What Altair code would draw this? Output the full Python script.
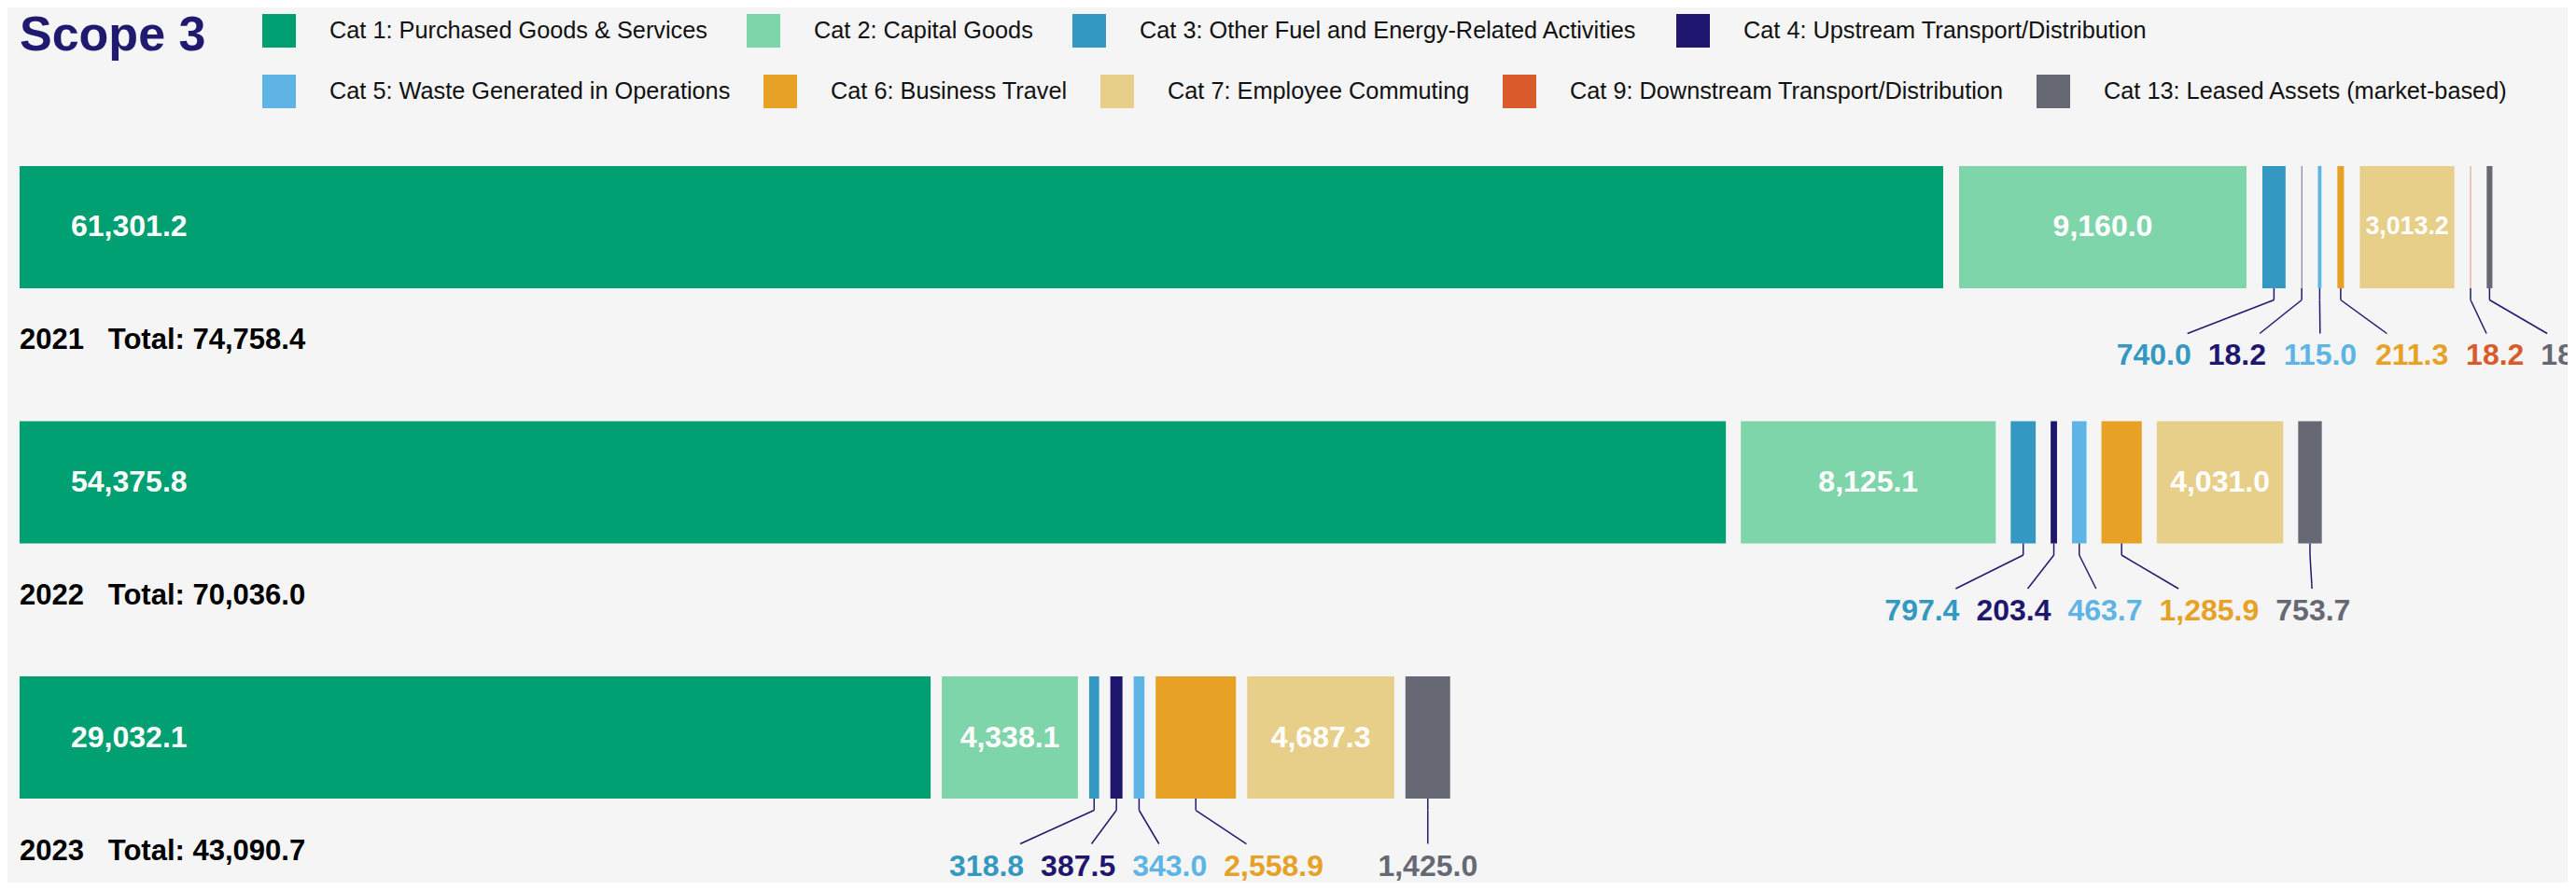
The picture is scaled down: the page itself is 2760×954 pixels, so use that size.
import altair as alt
import pandas as pd

# ---------------- data ----------------
years = ["2021", "2022", "2023"]
categories = [
    "Cat 1: Purchased Goods & Services",
    "Cat 2: Capital Goods",
    "Cat 3: Other Fuel and Energy-Related Activities",
    "Cat 4: Upstream Transport/Distribution",
    "Cat 5: Waste Generated in Operations",
    "Cat 6: Business Travel",
    "Cat 7: Employee Commuting",
    "Cat 9: Downstream Transport/Distribution",
    "Cat 13: Leased Assets (market-based)",
]
values_2021 = [61301.2, 9160.0, 740.0, 18.2, 115.0, 211.3, 3013.2, 18.2, 181.3]
values_2022 = [54375.8, 8125.1, 797.4, 203.4, 463.7, 1285.9, 4031.0, 0.0, 753.7]
values_2023 = [29032.1, 4338.1, 318.8, 387.5, 343.0, 2558.9, 4687.3, 0.0, 1425.0]
year_values = {"2021": values_2021, "2022": values_2022, "2023": values_2023}

# ---------------- style ----------------
colors = ["#00A072", "#7FD5AA", "#3399C2", "#1F176F", "#5EB5E5",
          "#E7A125", "#E7CF8A", "#D95A2B", "#666873"]
FONT = "Liberation Sans"
NAVY = "#1F1A6F"
BG = "#F5F5F5"
PLOT_W = 2730
PLOT_H = 764
X_MAX = 81200
PX = PLOT_W / X_MAX                     # pixels per data unit
GAP_PX = {"2021": 17, "2022": 16, "2023": 12}
INSIDE_MIN = 3000
VAL_SIZE = 32
LABEL_GAP = 18
VAL_DY = 148


def text_width(s, size):
    return size * sum(0.556 if ch.isdigit() else 0.278 for ch in s)


def dodge(centers, widths, gap):
    clusters = [[i] for i in range(len(centers))]

    def span(cl):
        tot = sum(widths[i] for i in cl) + gap * (len(cl) - 1)
        c = sum(centers[i] for i in cl) / len(cl)
        return c - tot / 2, c + tot / 2

    merged = True
    while merged:
        merged = False
        for j in range(len(clusters) - 1):
            a, b = span(clusters[j]), span(clusters[j + 1])
            if a[1] + gap > b[0]:
                clusters[j] = clusters[j] + clusters[j + 1]
                del clusters[j + 1]
                merged = True
                break
    out = [0.0] * len(centers)
    for cl in clusters:
        x = span(cl)[0]
        for i in cl:
            out[i] = x + widths[i] / 2
            x += widths[i] + gap
    return out


seg_rows, below_rows, total_rows = [], [], []
for y in years:
    vals = year_values[y]
    gap_u = GAP_PX[y] / PX
    cum, n = 0.0, 0
    segs = []
    for ci, (cat, col, v) in enumerate(zip(categories, colors, vals)):
        if v <= 0:
            continue
        start = cum + n * gap_u
        end = start + v
        cum += v
        n += 1
        lab = f"{v:,.1f}"
        inside = v >= INSIDE_MIN
        fs = min(VAL_SIZE, (v * PX - 12) / text_width(lab, 1)) if inside else VAL_SIZE
        segs.append(dict(year=y, cat=cat, ci=ci, color=col, value=v, start=start,
                         end=end, mid=(start + end) / 2, label=lab,
                         inside=inside, fs=fs))
    seg_rows += segs
    small = [r for r in segs if not r["inside"]]
    centers = [r["mid"] * PX for r in small]
    widths = [text_width(r["label"], VAL_SIZE) for r in small]
    pos = dodge(centers, widths, LABEL_GAP)
    for r, c, w, p in zip(small, centers, widths, pos):
        e = p + 0.35 * (c - p)
        e = max(p - w / 2 + 4, min(p + w / 2 - 4, e))
        below_rows.append(dict(year=y, label=r["label"], color=r["color"],
                               mid=r["mid"], lx=p / PX, lend=e / PX))
    total_rows.append(dict(year=y, x0=0.0,
                           text=f"{y}\u00a0\u00a0\u00a0Total: {sum(vals):,.1f}"))

seg_df = pd.DataFrame(seg_rows)
below_df = pd.DataFrame(below_rows)
total_df = pd.DataFrame(total_rows)

xs = alt.Scale(domain=[0, X_MAX], nice=False, zero=False)
ys = alt.Scale(paddingInner=0.521, paddingOuter=0.1572)
Y = alt.Y("year:N", scale=ys, axis=None)


def X(f):
    return alt.X(f, type="quantitative", scale=xs, axis=None)


leg = dict(orient="none", direction="horizontal", symbolType="square",
           symbolSize=1296, symbolStrokeWidth=0, symbolOpacity=1,
           labelFont=FONT, labelFontSize=25.3, labelColor="#111111",
           labelOffset=36, labelLimit=1500, padding=0,
           title=None, gridAlign="none")

base_seg = alt.Chart(seg_df)

bars_a = base_seg.transform_filter(alt.datum.ci < 4).mark_bar().encode(
    x=X("start"), x2="end:Q", y=Y,
    color=alt.Color("cat:N", scale=alt.Scale(domain=categories[:4], range=colors[:4]),
                    legend=alt.Legend(legendX=260, legendY=-120, columns=4,
                                      columnPadding=42, **leg)),
)
bars_b = base_seg.transform_filter(alt.datum.ci >= 4).mark_bar().encode(
    x=X("start"), x2="end:Q", y=Y,
    color=alt.Color("cat:N", scale=alt.Scale(domain=categories[4:], range=colors[4:]),
                    legend=alt.Legend(legendX=260, legendY=-55, columns=5,
                                      columnPadding=35, **leg)),
)

in_first = base_seg.transform_filter((alt.datum.ci == 0) & alt.datum.inside).mark_text(
    font=FONT, fontWeight="bold", color="white", align="left", baseline="middle", dx=55
).encode(x=X("start"), y=Y, text="label:N", size=alt.Size("fs:Q", scale=None))

in_other = base_seg.transform_filter((alt.datum.ci > 0) & alt.datum.inside).mark_text(
    font=FONT, fontWeight="bold", color="white", align="center", baseline="middle"
).encode(x=X("mid"), y=Y, text="label:N", size=alt.Size("fs:Q", scale=None))

base_below = alt.Chart(below_df)
rule_v = base_below.mark_rule(color=NAVY, strokeWidth=1.5, yOffset=65.5, y2Offset=78).encode(
    x=X("mid"), y=Y, y2=alt.Y2("year:N")
)
rule_d = base_below.mark_rule(color=NAVY, strokeWidth=1.5, yOffset=78,
                              y2Offset=VAL_DY - 34).encode(
    x=X("mid"), x2="lend:Q", y=Y, y2=alt.Y2("year:N")
)
val_text = base_below.mark_text(
    font=FONT, fontWeight="bold", fontSize=VAL_SIZE, align="center",
    baseline="alphabetic", dy=VAL_DY
).encode(x=X("lx"), y=Y, text="label:N", color=alt.Color("color:N", scale=None))

tot_text = alt.Chart(total_df).mark_text(
    font=FONT, fontWeight="bold", fontSize=31, align="left",
    baseline="alphabetic", dy=131, color="#000000"
).encode(x=X("x0"), y=Y, text="text:N")

chart = alt.layer(
    bars_a, bars_b, in_first, in_other, rule_v, rule_d, val_text, tot_text
).resolve_scale(color="independent").properties(
    width=PLOT_W, height=PLOT_H,
    title=alt.TitleParams("Scope 3", anchor="start", frame="group", fontSize=52,
                          font=FONT, fontWeight="bold", color=NAVY, offset=0, dy=50),
    autosize=alt.AutoSizeParams(type="none"),
    padding={"left": 13, "top": 127, "right": 0, "bottom": 47},
).configure(background=BG).configure_view(stroke=None)

chart.save("out.html", embed_options={"renderer": "svg", "actions": False})
